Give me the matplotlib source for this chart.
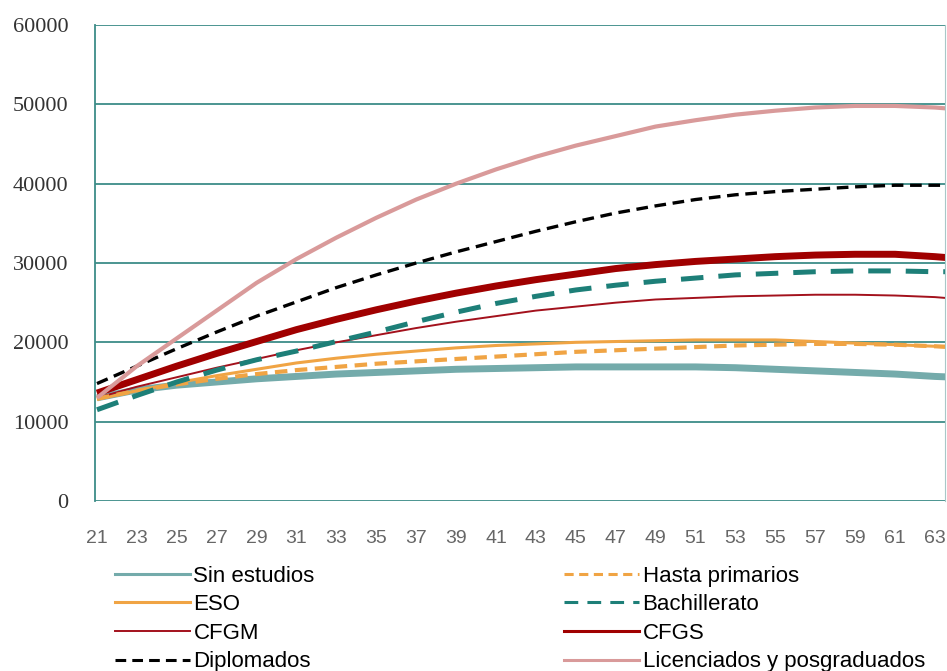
import numpy as np
import matplotlib.pyplot as plt
from matplotlib.lines import Line2D

plt.rcParams['font.family'] = ['Liberation Sans', 'DejaVu Sans']

edad = [21, 23, 25, 27, 29, 31, 33, 35, 37, 39, 41, 43, 45, 47,
        49, 51, 53, 55, 57, 59, 61, 63, 64]

sin_estudios = [13000, 14000, 14600, 15000, 15400, 15700, 16000, 16200, 16400, 16600, 16700, 16800,
                16900, 16900, 16900, 16900, 16800, 16600, 16400, 16200, 16000, 15700, 15600]
hasta_primarios = [12900, 13900, 14700, 15400, 16000, 16500, 16900, 17300, 17600, 17900, 18200, 18500,
                   18800, 19000, 19200, 19400, 19600, 19700, 19800, 19800, 19700, 19500, 19400]
eso = [12800, 13900, 14900, 15800, 16600, 17400, 18000, 18500, 18900, 19300, 19600, 19800,
       20000, 20100, 20200, 20300, 20300, 20300, 20100, 19900, 19700, 19500, 19300]
bachillerato = [11500, 13300, 15000, 16500, 17800, 18900, 20100, 21300, 22600, 23800, 24900, 25800,
                26600, 27200, 27700, 28100, 28500, 28700, 28900, 29000, 29000, 28900, 28900]
cfgm = [13000, 14400, 15600, 16800, 17900, 19000, 20000, 20900, 21800, 22600, 23300, 24000,
        24500, 25000, 25400, 25600, 25800, 25900, 26000, 26000, 25900, 25700, 25500]
cfgs = [13600, 15300, 17000, 18600, 20100, 21600, 22900, 24100, 25200, 26200, 27100, 27900,
        28600, 29300, 29800, 30200, 30500, 30800, 31000, 31100, 31100, 30800, 30600]
diplomados = [14800, 17000, 19200, 21300, 23300, 25100, 26900, 28500, 30000, 31400, 32700, 34000,
              35200, 36300, 37200, 38000, 38600, 39000, 39300, 39600, 39800, 39800, 39800]
licenciados = [13000, 17000, 20500, 24000, 27500, 30500, 33200, 35700, 38000, 40000, 41800, 43400,
               44800, 46000, 47200, 48000, 48700, 49200, 49600, 49800, 49800, 49600, 49400]

grid_col = '#3d8c88'

fig = plt.figure(figsize=(9.47, 6.71), dpi=100)
ax = fig.add_axes([0.1003, 0.2534, 0.8975, 0.7093])

ax.set_ylim(0, 60000)
ax.set_xlim(20.9, 63.5)
ax.set_yticks(range(0, 60001, 10000))
ax.set_xticks(range(21, 64, 2))
ax.yaxis.grid(True, color=grid_col, lw=1.3)
ax.set_axisbelow(True)
for s in ['top', 'bottom']:
    ax.spines[s].set_visible(False)
ax.spines['left'].set_color(grid_col)
ax.spines['left'].set_linewidth(1.3)
ax.spines['right'].set_color('#a8c8c8')
ax.spines['right'].set_linewidth(0.8)
ax.tick_params(length=0)
ax.tick_params(axis='x', pad=21, labelsize=14, labelcolor='#666666')
ax.tick_params(axis='y', pad=19, labelsize=16, labelcolor='#333333')
for lab in ax.get_yticklabels():
    lab.set_family(['Liberation Serif', 'DejaVu Serif'])

series = [
    (sin_estudios, 'Sin estudios', dict(color='#74abab', lw=5, ls='-')),
    (eso, 'ESO', dict(color='#f0a444', lw=2.2, ls='-')),
    (cfgm, 'CFGM', dict(color='#a3111c', lw=1.4, ls='-')),
    (diplomados, 'Diplomados', dict(color='black', lw=2.4, ls=(0, (3.5, 2)))),
    (hasta_primarios, 'Hasta primarios', dict(color='#f0a444', lw=3, ls=(0, (3, 1.8)))),
    (bachillerato, 'Bachillerato', dict(color='#1d7f78', lw=3.6, ls=(0, (4.5, 3)))),
    (cfgs, 'CFGS', dict(color='#a00000', lw=5, ls='-')),
    (licenciados, 'Licenciados y posgraduados', dict(color='#d99a9a', lw=3, ls='-')),
]

for vals, name, st in series:
    ax.plot(edad, vals, solid_capstyle='butt', dash_capstyle='butt', **st)

handles = [Line2D([], [], color=st['color'], lw=min(st['lw'], 2.2), ls=st['ls']) for _, _, st in series]
labels = [name for _, name, _ in series]
fig.legend(handles, labels, ncol=2, loc='upper left', bbox_to_anchor=(0.121, 0.157),
           frameon=False, fontsize=16, handlelength=3.4, handletextpad=0.15,
           columnspacing=11.2, labelspacing=0.34, borderpad=0, borderaxespad=0)

fig.savefig('out.png', dpi=100)
